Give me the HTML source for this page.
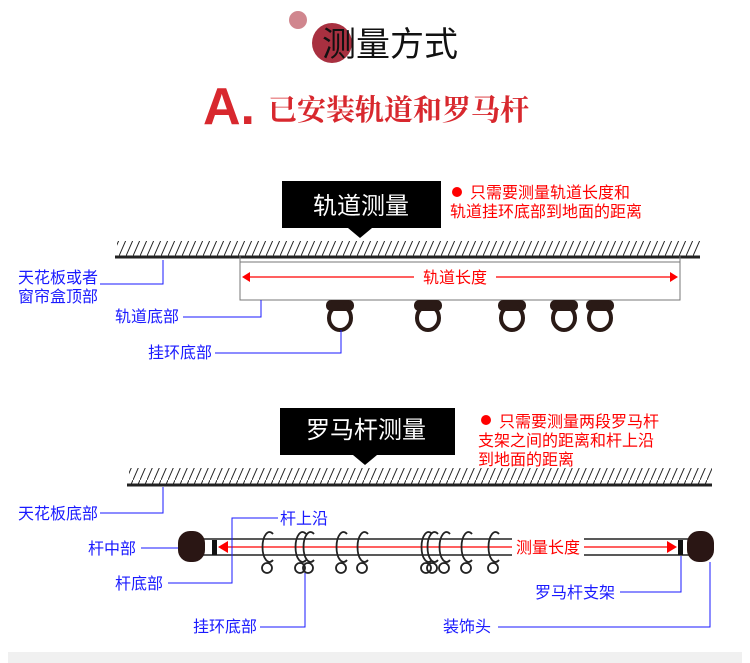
<!DOCTYPE html>
<html><head><meta charset="utf-8"><style>
html,body{margin:0;padding:0;background:#fff;}
svg{display:block;}
text{font-family:"Liberation Sans","Noto Sans CJK SC",sans-serif;}
.b{fill:#1a1aff;font-size:16px;}
.r{fill:#ff0000;font-size:16px;}
</style></head><body>
<svg width="750" height="663" viewBox="0 0 750 663" xmlns="http://www.w3.org/2000/svg">
<defs>
<pattern id="h" width="7" height="16" patternUnits="userSpaceOnUse">
<line x1="0" y1="16" x2="7" y2="0" stroke="#222" stroke-width="1"/>
</pattern>
<g id="ring">
<path d="M6,-13 A7,15 0 1 0 6,13" fill="none" stroke="#222" stroke-width="1.8"/>
<circle cx="0" cy="21" r="5" fill="none" stroke="#222" stroke-width="1.8"/>
</g>
<g id="hook">
<rect x="-14" y="0" width="28" height="11" rx="5" fill="#2a1a16"/>
<ellipse cx="0" cy="18" rx="11" ry="12" fill="none" stroke="#2a1a16" stroke-width="4"/>
</g>
</defs>
<circle cx="298" cy="20" r="9" fill="#d0868e"/>
<circle cx="332" cy="43" r="20" fill="#a83040"/>
<text x="322" y="56" font-size="34" fill="#111">测量方式</text>
<text x="203" y="124" font-size="52" font-weight="bold" fill="#d8282e" font-family="Liberation Sans,sans-serif">A.</text>
<text x="268" y="120" font-size="29" fill="#d8282e" font-weight="bold" style="font-family:'Noto Serif CJK SC',serif">已安装轨道和罗马杆</text>

<!-- section 1 -->
<rect x="282" y="181" width="159" height="47" fill="#000"/>
<polygon points="348,228 372,228 360,238" fill="#000"/>
<text x="361" y="214" font-size="24" fill="#fff" text-anchor="middle">轨道测量</text>
<circle cx="457" cy="192" r="5" fill="#f00"/>
<text x="470" y="198" class="r">只需要测量轨道长度和</text>
<text x="450" y="217" class="r">轨道挂环底部到地面的距离</text>
<rect x="117" y="241" width="583" height="16" fill="url(#h)"/>
<line x1="115" y1="257" x2="700" y2="257" stroke="#222" stroke-width="3"/>
<rect x="240" y="262" width="440" height="38" fill="none" stroke="#777" stroke-width="1"/>
<line x1="240" y1="256" x2="240" y2="264" stroke="#777"/>
<line x1="680" y1="256" x2="680" y2="264" stroke="#777"/>
<line x1="246" y1="277" x2="414" y2="277" stroke="#f00" stroke-width="1.3"/>
<line x1="496" y1="277" x2="674" y2="277" stroke="#f00" stroke-width="1.3"/>
<polygon points="242,277 250,272 250,282" fill="#f00"/>
<polygon points="678,277 670,272 670,282" fill="#f00"/>
<text x="455" y="283" class="r" text-anchor="middle">轨道长度</text>
<use href="#hook" x="340" y="300"/>
<use href="#hook" x="428" y="300"/>
<use href="#hook" x="512" y="300"/>
<use href="#hook" x="564" y="300"/>
<use href="#hook" x="600" y="300"/>
<text x="18" y="283" class="b">天花板或者</text>
<text x="18" y="302" class="b">窗帘盒顶部</text>
<polyline points="100,284 163,284 163,260" fill="none" stroke="#1a1aff" stroke-width="1"/>
<text x="115" y="322" class="b">轨道底部</text>
<polyline points="183,317 261,317 261,300" fill="none" stroke="#1a1aff" stroke-width="1"/>
<text x="148" y="358" class="b">挂环底部</text>
<polyline points="215,353 341,353 341,330" fill="none" stroke="#1a1aff" stroke-width="1"/>

<!-- section 2 -->
<rect x="280" y="408" width="175" height="47" fill="#000"/>
<polygon points="353,455 377,455 365,465" fill="#000"/>
<text x="366" y="438" font-size="24" fill="#fff" text-anchor="middle">罗马杆测量</text>
<circle cx="486" cy="420" r="5" fill="#f00"/>
<text x="499" y="427" class="r">只需要测量两段罗马杆</text>
<text x="478" y="446" class="r">支架之间的距离和杆上沿</text>
<text x="478" y="465" class="r">到地面的距离</text>
<rect x="129" y="468" width="583" height="16" fill="url(#h)"/>
<line x1="127" y1="485" x2="712" y2="485" stroke="#222" stroke-width="3"/>
<text x="18" y="519" class="b">天花板底部</text>
<polyline points="100,513 163,513 163,487" fill="none" stroke="#1a1aff" stroke-width="1"/>
<line x1="195" y1="539" x2="700" y2="539" stroke="#222" stroke-width="1.5"/>
<line x1="195" y1="555" x2="700" y2="555" stroke="#222" stroke-width="1.5"/>
<rect x="178" y="531" width="27" height="31" rx="12" fill="#2a1614"/>
<rect x="687" y="531" width="27" height="31" rx="12" fill="#2a1614"/>
<rect x="212" y="540" width="5" height="15" fill="#111"/>
<rect x="678" y="540" width="5" height="15" fill="#111"/>
<line x1="222" y1="547" x2="512" y2="547" stroke="#f00" stroke-width="1.3"/>
<line x1="584" y1="547" x2="672" y2="547" stroke="#f00" stroke-width="1.3"/>
<polygon points="218,547 228,541 228,553" fill="#f00"/>
<polygon points="677,547 667,541 667,553" fill="#f00"/>
<use href="#ring" x="267" y="547"/>
<use href="#ring" x="300" y="547"/>
<use href="#ring" x="308" y="547"/>
<use href="#ring" x="341" y="547"/>
<use href="#ring" x="362" y="547"/>
<use href="#ring" x="426" y="547"/>
<use href="#ring" x="432" y="547"/>
<use href="#ring" x="444" y="547"/>
<use href="#ring" x="466" y="547"/>
<use href="#ring" x="493" y="547"/>
<rect x="512" y="538" width="72" height="18" fill="#fff"/>
<text x="548" y="553" class="r" text-anchor="middle">测量长度</text>
<text x="280" y="524" class="b">杆上沿</text>
<polyline points="278,518 232,518 232,583 168,583" fill="none" stroke="#1a1aff" stroke-width="1"/>
<text x="115" y="589" class="b">杆底部</text>
<text x="88" y="554" class="b">杆中部</text>
<line x1="141" y1="548" x2="178" y2="548" stroke="#1a1aff" stroke-width="1"/>
<text x="193" y="632" class="b">挂环底部</text>
<polyline points="260,627 305,627 305,573" fill="none" stroke="#1a1aff" stroke-width="1"/>
<text x="535" y="598" class="b">罗马杆支架</text>
<polyline points="620,592 681,592 681,556" fill="none" stroke="#1a1aff" stroke-width="1"/>
<text x="443" y="632" class="b">装饰头</text>
<polyline points="498,627 710,627 710,562" fill="none" stroke="#1a1aff" stroke-width="1"/>
<rect x="8" y="652" width="734" height="11" fill="#f0f0f0"/>
</svg>
</body></html>
